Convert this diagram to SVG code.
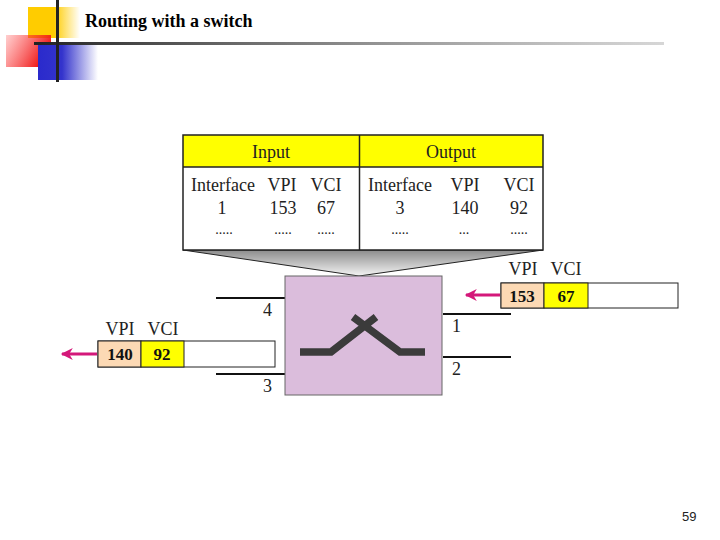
<svg xmlns="http://www.w3.org/2000/svg" width="720" height="540" viewBox="0 0 720 540">
<defs>
<linearGradient id="gY" x1="0" y1="0" x2="1" y2="0"><stop offset="0" stop-color="#ffcc00"/><stop offset="0.5" stop-color="#ffcc00"/><stop offset="1" stop-color="#ffcc00" stop-opacity="0"/></linearGradient>
<linearGradient id="gR" x1="0" y1="0" x2="1" y2="0.4"><stop offset="0" stop-color="#ff4040" stop-opacity="0.25"/><stop offset="1" stop-color="#ee1111"/></linearGradient>
<linearGradient id="gB" x1="0" y1="0" x2="1" y2="0"><stop offset="0" stop-color="#2a2acc"/><stop offset="0.4" stop-color="#3333cc"/><stop offset="1" stop-color="#3333cc" stop-opacity="0"/></linearGradient>
<linearGradient id="gL" x1="0" y1="0" x2="1" y2="0"><stop offset="0" stop-color="#222"/><stop offset="1" stop-color="#bbb" stop-opacity="0.6"/></linearGradient>
<linearGradient id="gF" x1="0" y1="0" x2="0" y2="1"><stop offset="0" stop-color="#8c8c8c"/><stop offset="1" stop-color="#f4f4f4"/></linearGradient>
<marker id="ah" viewBox="0 0 10 10" refX="9" refY="5" markerWidth="4.5" markerHeight="4" orient="auto" markerUnits="strokeWidth"><path d="M0,0 L10,5 L0,10 L3,5 Z" fill="#d4187a"/></marker>
<style>
.s{font-family:"Liberation Serif","Times New Roman",serif;fill:#222;font-size:18px}
.d{font-family:"Liberation Serif","Times New Roman",serif;fill:#222;font-size:14px;text-anchor:middle}
.c{text-anchor:middle}
.b{font-family:"Liberation Serif","Times New Roman",serif;font-weight:bold;font-size:17px;fill:#111;text-anchor:middle}
.ln{stroke:#111;stroke-width:2;fill:none}
.arr{stroke:#d4187a;stroke-width:3;fill:none;marker-end:url(#ah)}
</style>
</defs>
<rect width="720" height="540" fill="#fff"/>
<g id="logo">
<rect x="28" y="7" width="52" height="31" fill="url(#gY)"/>
<rect x="6" y="35" width="45" height="32" fill="url(#gR)"/>
<rect x="38" y="45" width="60" height="35" fill="url(#gB)"/>
<rect x="34" y="42" width="630" height="3" fill="url(#gL)"/>
<rect x="56" y="0" width="3" height="82" fill="#222"/>
</g>
<text x="85" y="27" font-family="Liberation Serif,Times New Roman,serif" font-weight="bold" font-size="18" fill="#000">Routing with a switch</text>
<g id="funnel">
<polygon points="183,250 543,250 359,276" fill="url(#gF)" stroke="#222" stroke-width="1"/>
</g>
<g id="table">
<rect x="183" y="135" width="360" height="32" fill="#ffff00"/>
<rect x="183" y="167" width="360" height="83" fill="#fff"/>
<rect x="183" y="135" width="360" height="115" fill="none" stroke="#222" stroke-width="1.5"/>
<line x1="183" y1="167" x2="543" y2="167" stroke="#222" stroke-width="1.5"/>
<line x1="359.5" y1="135" x2="359.5" y2="250" stroke="#222" stroke-width="1.5"/>
<text class="s c" x="271" y="158">Input</text>
<text class="s c" x="451" y="158">Output</text>
<text class="s c" x="223" y="191">Interface</text>
<text class="s c" x="282" y="191">VPI</text>
<text class="s c" x="326" y="191">VCI</text>
<text class="s c" x="400" y="191">Interface</text>
<text class="s c" x="465" y="191">VPI</text>
<text class="s c" x="519" y="191">VCI</text>
<text class="s c" x="222" y="214">1</text>
<text class="s c" x="283" y="214">153</text>
<text class="s c" x="326" y="214">67</text>
<text class="s c" x="400" y="214">3</text>
<text class="s c" x="465" y="214">140</text>
<text class="s c" x="519" y="214">92</text>
<text class="d" x="224" y="234">.....</text>
<text class="d" x="283" y="234">.....</text>
<text class="d" x="326" y="234">.....</text>
<text class="d" x="400" y="234">.....</text>
<text class="d" x="464" y="234">...</text>
<text class="d" x="519" y="234">.....</text>
</g>
<g id="ports">
<line class="ln" x1="216" y1="298" x2="285" y2="298"/>
<line class="ln" x1="216" y1="374" x2="285" y2="374"/>
<line class="ln" x1="443" y1="314" x2="511" y2="314"/>
<line class="ln" x1="443" y1="357" x2="511" y2="357"/>
</g>
<g id="switch">
<rect x="285" y="276" width="157" height="119" fill="#dbbddc" stroke="#666" stroke-width="1"/>
<path d="M300,352 H331 L376,317 M425,352 H400 L353,317" fill="none" stroke="#3b3b3b" stroke-width="7.5" stroke-linejoin="miter"/>
<text class="s" x="263" y="316">4</text>
<text class="s" x="263" y="392">3</text>
<text class="s" x="452" y="332">1</text>
<text class="s" x="452" y="375">2</text>
</g>
<g id="packet-in">
<rect x="501" y="283" width="177" height="25" fill="#fff" stroke="#222" stroke-width="1"/>
<rect x="501" y="283" width="43" height="25" fill="#fcd9b4" stroke="#222" stroke-width="1"/>
<rect x="544" y="283" width="44" height="25" fill="#ffff00" stroke="#222" stroke-width="1"/>
<text class="b" x="522" y="302">153</text>
<text class="b" x="566" y="302">67</text>
<text class="s c" x="523" y="275">VPI</text>
<text class="s c" x="566" y="275">VCI</text>
</g>
<g id="packet-out">
<rect x="98" y="341" width="177" height="26" fill="#fff" stroke="#222" stroke-width="1"/>
<rect x="98" y="341" width="43" height="26" fill="#fcd9b4" stroke="#222" stroke-width="1"/>
<rect x="141" y="341" width="43" height="26" fill="#ffff00" stroke="#222" stroke-width="1"/>
<text class="b" x="120" y="360">140</text>
<text class="b" x="162" y="360">92</text>
<text class="s c" x="120" y="335">VPI</text>
<text class="s c" x="163" y="335">VCI</text>
</g>
<g id="connectors">
<line class="arr" x1="500" y1="295" x2="466" y2="295"/>
<line class="arr" x1="97" y1="354" x2="62" y2="354"/>
</g>
<text x="682" y="521" font-family="Liberation Sans,Arial,sans-serif" font-size="13" fill="#222">59</text>
</svg>
